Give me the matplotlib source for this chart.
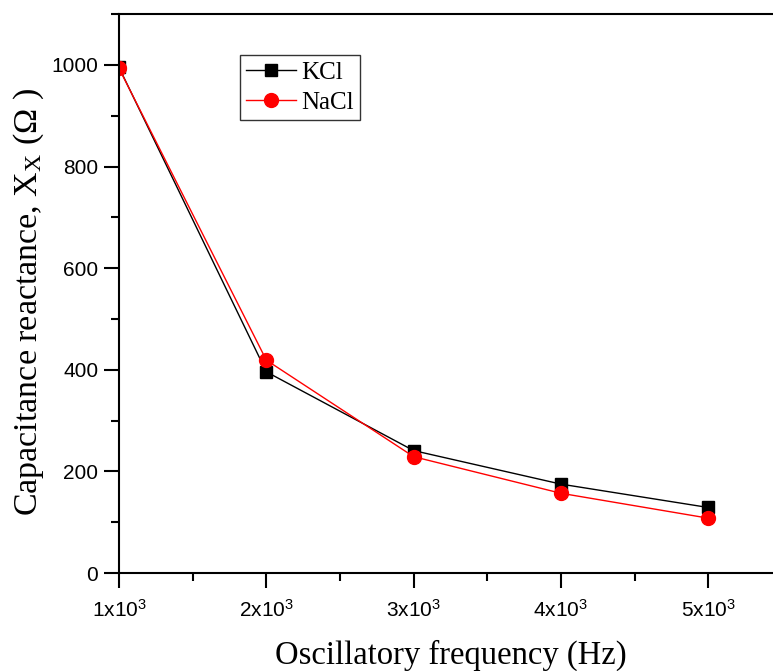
import matplotlib
matplotlib.use('Agg')
import matplotlib.pyplot as plt
from matplotlib.ticker import MultipleLocator, FixedLocator

plt.rcParams['mathtext.fontset'] = 'custom'
plt.rcParams['mathtext.rm'] = 'Liberation Serif'
plt.rcParams['mathtext.it'] = 'Liberation Serif:italic'
plt.rcParams['mathtext.sf'] = 'Liberation Sans'

# capacitance reactance vs oscillator frequency
freq = [1000, 2000, 3000, 4000, 5000]
kcl = [995, 396, 241, 175, 129]
nacl = [993, 419, 229, 157, 108]
xtick_labels = [r'1x10$^{\mathsf{3}}$', r'2x10$^{\mathsf{3}}$', r'3x10$^{\mathsf{3}}$',
                r'4x10$^{\mathsf{3}}$', r'5x10$^{\mathsf{3}}$']

fig = plt.figure(figsize=(7.73, 6.71), dpi=100)
ax = fig.add_axes([0.154, 0.146, 0.846, 0.833])

ax.plot(freq, kcl, color='black', lw=1, marker='s', ms=9, label='KCl')
ax.plot(freq, nacl, color='red', lw=1, marker='o', ms=10, label='NaCl')

ax.set_xlim(1000, 5440)
ax.set_ylim(0, 1100)
ax.xaxis.set_major_locator(FixedLocator(freq))
ax.xaxis.set_minor_locator(MultipleLocator(500))
ax.yaxis.set_major_locator(FixedLocator([0, 200, 400, 600, 800, 1000]))
ax.yaxis.set_minor_locator(MultipleLocator(100))
ax.set_xticklabels(xtick_labels, family='Liberation Sans', fontsize=15)
for t in ax.get_yticklabels():
    t.set_family('Liberation Sans')
    t.set_fontsize(15)

ax.tick_params(which='major', direction='out', length=11, width=1.5)
ax.tick_params(which='minor', direction='out', length=6, width=1.5)
ax.tick_params(axis='x', which='major', pad=8)
ax.tick_params(axis='y', which='major', pad=4)
ax.tick_params(top=False, right=False)
ax.spines['right'].set_visible(False)
for s in ['left', 'bottom', 'top']:
    ax.spines[s].set_linewidth(1.5)

ax.set_xlabel('Oscillatory frequency (Hz)', family='Liberation Serif', fontsize=23.5)
ax.xaxis.set_label_coords(0.508, -0.12)
ax.set_ylabel(r'Capacitance reactance, X$_{\mathrm{X}}$ ($\Omega$ )',
              family='Liberation Serif', fontsize=24.5)
ax.yaxis.set_label_coords(-0.112, 0.485)

leg = ax.legend(loc='upper left', bbox_to_anchor=(0.185, 0.927),
                borderaxespad=0, fancybox=False, edgecolor='black',
                prop={'family': 'Liberation Serif', 'size': 18},
                handlelength=2.0, handletextpad=0.2, borderpad=0.25,
                labelspacing=0.3)
leg.get_frame().set_linewidth(1)

fig.savefig('out.png', dpi=100)
